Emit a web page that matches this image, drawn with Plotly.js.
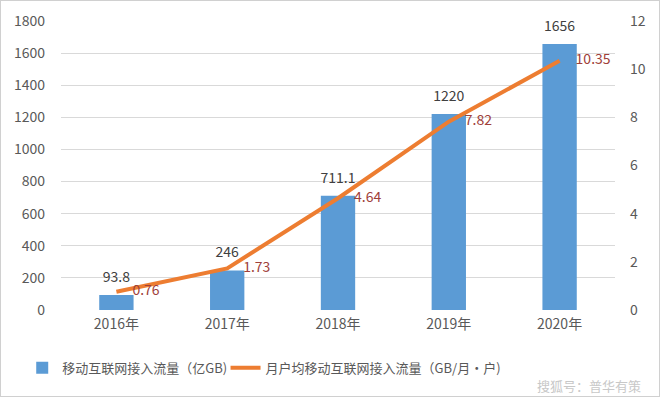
<!DOCTYPE html>
<html><head><meta charset="utf-8">
<script src="https://cdn.plot.ly/plotly-3.0.1.min.js"></script>
<style>
html,body{margin:0;padding:0;background:#fff;}
#wrap{position:relative;width:660px;height:397px;}
#chart{width:660px;height:397px;}
#border{position:absolute;left:0;top:0;width:658px;height:395px;border:1px solid #d0d0d0;pointer-events:none;}
</style></head>
<body>
<div id="wrap"><div id="chart"></div><div id="border"></div></div>
<script>
const categories = ["2016年", "2017年", "2018年", "2019年", "2020年"];
const trafficTotal = [93.8, 246, 711.1, 1220, 1656];
const trafficPerUser = [0.76, 1.73, 4.64, 7.82, 10.35];
const trafficTotalLabels = ["93.8", "246", "711.1", "1220", "1656"];
const trafficPerUserLabels = ["0.76", "1.73", "4.64", "7.82", "10.35"];
const seriesNames = ["移动互联网接入流量（亿GB)", "月户均移动互联网接入流量（GB/月·户)"];
const leftTicks = [0, 200, 400, 600, 800, 1000, 1200, 1400, 1600, 1800];
const rightTicks = [0, 2, 4, 6, 8, 10, 12];

const font = "'Noto Sans CJK SC', 'Noto Sans', sans-serif";

const traces = [
  {
    type: "bar", x: categories, y: trafficTotal, name: seriesNames[0],
    marker: {color: "#5b9bd5"}, width: 0.31, legend: "legend",
    hoverinfo: "none"
  },
  {
    type: "scatter", mode: "lines+markers+text", x: categories, y: trafficPerUser, yaxis: "y2",
    name: seriesNames[1], legend: "legend2",
    line: {color: "#ed7d31", width: 4},
    marker: {size: 24, color: "rgba(0,0,0,0)"},
    text: trafficPerUserLabels, textposition: "middle right", cliponaxis: false,
    textfont: {color: "#a0403a", size: 14, family: font},
    hoverinfo: "none"
  },
  {
    type: "scatter", mode: "markers+text", x: categories, y: trafficTotal,
    showlegend: false,
    marker: {size: 14, color: "rgba(0,0,0,0)"},
    text: trafficTotalLabels, textposition: "top center", cliponaxis: false,
    textfont: {color: "#404040", size: 14, family: font},
    hoverinfo: "none"
  }
];

const legendCommon = {
  orientation: "h", xanchor: "left", y: -0.2, yanchor: "middle",
  font: {size: 13, color: "#595959", family: font},
  itemwidth: 30, itemclick: false, bgcolor: "rgba(0,0,0,0)"
};

const layout = {
  width: 660, height: 397,
  margin: {l: 61, r: 45, t: 21, b: 87},
  paper_bgcolor: "#ffffff", plot_bgcolor: "#ffffff",
  font: {family: font, color: "#595959", size: 13},
  showlegend: true,
  xaxis: {
    type: "category", showgrid: false, zeroline: false,
    showline: false, ticks: "", tickfont: {size: 14, color: "#595959"},
    ticklabelstandoff: 4
  },
  yaxis: {
    range: [0, 1800], tickvals: leftTicks, showgrid: true,
    gridcolor: "#d9d9d9", gridwidth: 1, zeroline: false, showline: false,
    ticks: "", tickfont: {size: 14, color: "#595959"}, ticklabelstandoff: 15
  },
  yaxis2: {
    range: [0, 12], tickvals: rightTicks, overlaying: "y", side: "right",
    showgrid: false, zeroline: false, showline: false, ticks: "",
    tickfont: {size: 14, color: "#595959"}, ticklabelstandoff: 14
  },
  legend: Object.assign({}, legendCommon, {x: -0.07}),
  legend2: Object.assign({}, legendCommon, {x: 0.297}),
  annotations: [{
    xref: "paper", yref: "paper", x: 1.05, y: -0.26, xanchor: "right", yanchor: "middle",
    text: "搜狐号：普华有策", showarrow: false,
    font: {size: 13, color: "#c8c8c8", family: font}
  }]
};

Plotly.newPlot("chart", traces, layout, {displayModeBar: false, staticPlot: true});
</script>
</body></html>
